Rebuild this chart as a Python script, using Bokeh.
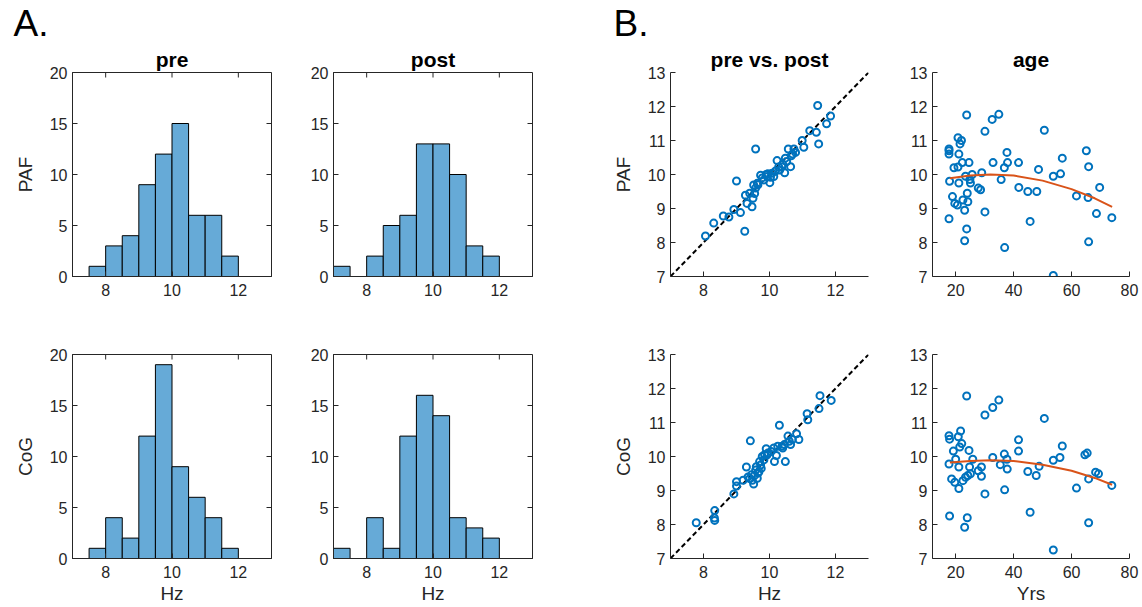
from bokeh.plotting import figure
from bokeh.layouts import row, column
from bokeh.models import FixedTicker, Range1d, Title
from bokeh.embed import file_html
from bokeh.resources import INLINE

FONT = "Liberation Sans"
TXT = "#262626"
BLUE = "#0072BD"
ORANGE = "#D95319"
BAR = "#66AAD7"

# ---------------- data ----------------
bin_edges = [7.0, 7.5, 8.0, 8.5, 9.0, 9.5, 10.0, 10.5, 11.0, 11.5, 12.0, 12.5, 13.0]
paf_pre_counts = [0, 1, 3, 4, 9, 12, 15, 6, 6, 2, 0, 0]
paf_post_counts = [1, 0, 2, 5, 6, 13, 13, 10, 3, 2, 0, 0]
cog_pre_counts = [0, 1, 4, 2, 12, 19, 9, 6, 4, 1, 0, 0]
cog_post_counts = [1, 0, 4, 1, 12, 16, 14, 4, 3, 2, 0, 0]

paf_pre = [8.06, 8.31, 8.60, 8.77, 8.92, 9.00, 9.12, 9.25, 9.27, 9.32, 9.47, 9.50, 9.52,
           9.55, 9.58, 9.63, 9.58, 9.73, 9.83, 9.78, 9.93, 9.95, 10.01, 10.03, 10.08, 10.13,
           10.18, 10.23, 10.31, 10.28, 10.38, 10.46, 10.48, 10.52, 10.57, 10.64, 10.66, 10.74,
           10.79, 10.70, 10.99, 11.04, 11.22, 11.42, 11.46, 11.49, 11.73, 11.85, 9.40, 9.65,
           9.90, 10.40]
paf_post = [8.19, 8.57, 8.78, 8.75, 8.97, 9.81, 8.88, 8.33, 9.39, 9.15, 9.05, 9.30, 9.69,
            9.44, 10.75, 9.74, 9.60, 9.98, 9.84, 9.90, 9.94, 10.02, 9.76, 9.92, 10.04, 9.94,
            10.10, 10.41, 10.13, 10.22, 10.23, 10.05, 10.48, 10.38, 10.75, 10.23, 10.55, 10.75,
            10.65, 10.60, 11.00, 10.80, 11.29, 11.24, 12.03, 10.90, 11.49, 11.72, 9.45, 9.70,
            10.00, 10.30]

cog_pre = [7.78, 8.33, 8.34, 8.34, 8.92, 9.00, 9.00, 9.30, 9.42, 9.45, 9.52, 9.58, 9.63,
           9.65, 9.73, 9.78, 9.83, 9.90, 9.93, 10.13, 10.15, 10.21, 10.30, 10.38, 10.48, 10.56,
           10.64, 10.69, 10.82, 10.89, 11.14, 11.16, 11.50, 11.53, 11.87, 9.35, 9.40, 9.48,
           9.55, 9.60, 9.68, 9.70, 9.75, 9.85, 9.95, 10.05, 10.40, 10.45, 10.60, 10.25, 9.20]
cog_post = [8.05, 8.19, 8.12, 8.41, 8.90, 9.26, 9.13, 9.69, 10.46, 9.46, 9.19, 9.60, 9.36,
            9.51, 9.75, 10.00, 9.90, 10.23, 10.05, 10.25, 9.85, 10.03, 10.92, 10.30, 9.85, 10.60,
            10.35, 10.50, 10.67, 10.50, 11.26, 11.08, 11.41, 11.79, 11.65, 9.40, 9.35, 9.30,
            9.45, 9.70, 9.55, 9.85, 9.65, 10.05, 10.10, 10.15, 10.25, 10.35, 10.45, 10.30, 9.30]

paf_age = [17.7, 17.7, 17.7, 17.9, 17.7, 18.9, 19.4, 19.7, 20.6, 20.8, 21.1, 21.1, 20.8, 21.5,
           22.0, 22.3, 22.5, 23.1, 23.1, 23.4, 23.8, 23.8, 24.0, 24.2, 24.6, 24.9, 25.1, 25.7,
           27.8, 28.6, 29.0, 30.1, 30.1, 32.6, 32.9, 34.9, 35.7, 36.8, 36.9, 37.7, 37.9, 41.7,
           41.8, 44.9, 45.7, 48.0, 48.6, 50.6, 53.7, 53.7, 56.2, 56.8, 61.7, 65.1, 65.7, 65.9,
           65.9, 68.6, 69.7, 73.9]
paf_age_val = [10.70, 10.60, 10.75, 9.80, 8.70, 9.35, 10.20, 9.15, 9.10, 11.08, 10.60, 9.75,
               10.22, 10.90, 11.00, 10.35, 9.25, 8.95, 8.05, 9.95, 11.75, 8.40, 9.45, 9.20,
               10.35, 9.85, 9.75, 10.00, 9.60, 9.55, 10.05, 11.27, 8.90, 11.62, 10.35, 11.77,
               9.85, 10.20, 7.85, 10.65, 10.35, 10.35, 9.62, 9.50, 8.62, 9.50, 10.15, 11.30,
               9.95, 7.03, 10.02, 10.48, 9.37, 10.70, 9.32, 10.23, 8.02, 8.85, 9.62, 8.73]

cog_age = [17.7, 17.9, 17.7, 17.9, 18.6, 19.2, 19.7, 20.0, 20.9, 21.1, 21.1, 21.4, 21.7, 22.1,
           22.5, 23.1, 23.4, 23.8, 24.0, 24.2, 24.6, 24.8, 25.1, 25.9, 27.8, 28.9, 28.9, 30.1,
           30.1, 32.8, 32.8, 34.9, 35.4, 36.8, 36.9, 37.7, 37.8, 41.7, 41.7, 44.9, 45.7, 47.8,
           48.8, 50.6, 53.7, 53.7, 56.0, 56.8, 61.7, 64.6, 65.4, 65.9, 65.9, 68.3, 69.3, 73.9]
cog_age_val = [10.61, 10.51, 9.78, 8.25, 9.34, 10.16, 9.24, 9.92, 10.58, 9.69, 9.06, 10.28,
               10.75, 10.38, 9.29, 7.92, 9.39, 11.78, 8.20, 9.44, 10.18, 9.69, 9.49, 9.92,
               9.58, 9.69, 9.42, 11.22, 8.90, 11.44, 9.97, 11.66, 9.76, 10.07, 9.02, 9.92,
               9.63, 10.49, 10.16, 9.56, 8.36, 9.44, 9.71, 11.12, 9.89, 7.25, 9.97, 10.31,
               9.07, 10.05, 10.10, 9.34, 8.05, 9.54, 9.49, 9.15]

fit_age = [18, 25, 32, 40, 50, 60, 68, 74]
paf_fit = [9.89, 9.97, 10.00, 9.97, 9.82, 9.57, 9.30, 9.05]
cog_fit = [9.82, 9.87, 9.89, 9.87, 9.76, 9.58, 9.37, 9.17]

identity_line = [7, 13]

hz_ticks = [8, 10, 12]
count_ticks = [0, 5, 10, 15, 20]
val_ticks = [7, 8, 9, 10, 11, 12, 13]
age_ticks = [20, 40, 60, 80]

panel_labels = ["A.", "B."]

# ---------------- layout geometry ----------------
COLW = [(302, 72, 31), (298, 31, 68), (300, 70, 32), (242, 32, 13)]
ROWH = [(316, 72, 40), (291, 38, 49)]
TICK = 5


def style_axis(ax, ticks, xaxis=True):
    ax.ticker = FixedTicker(ticks=ticks)
    ax.major_tick_in = TICK
    ax.major_tick_out = 0
    ax.minor_tick_line_color = None
    ax.axis_line_color = TXT
    ax.major_tick_line_color = TXT
    ax.axis_line_width = 1
    ax.major_tick_line_width = 1
    ax.major_label_text_font = FONT
    ax.major_label_text_color = TXT
    ax.major_label_text_font_size = "16px"
    ax.major_label_standoff = 7 if xaxis else 5
    ax.axis_label_text_font = FONT
    ax.axis_label_text_font_size = "19px"
    ax.axis_label_text_font_style = "normal"
    ax.axis_label_text_color = TXT
    ax.axis_label_standoff = 2 if xaxis else 11


def style_title(t):
    t.align = "center"
    t.text_font = FONT
    t.text_font_size = "21px"
    t.text_font_style = "bold"
    t.text_color = "#000000"
    t.standoff = 4


def make_fig(ci, ri, xr, yr, xticks, yticks, title, ylabel=None, xlabel=None, box=False,
             panel=None):
    w, bl, br = COLW[ci]
    h, bt, bb = ROWH[ri]
    p = figure(width=w, height=h, x_range=Range1d(*xr), y_range=Range1d(*yr),
               output_backend="svg", toolbar_location=None,
               min_border_left=bl, min_border_right=br,
               min_border_top=bt, min_border_bottom=bb)
    p.grid.visible = False
    p.background_fill_color = "white"
    p.border_fill_color = "white"
    if panel is None:
        p.title.text = title
        style_title(p.title)
    else:
        # outer title: panel letter; inner (added) title: subplot title
        p.title.text = panel
        p.title.align = "left"
        p.title.offset = -(bl - 13)
        p.title.standoff = 0
        p.title.text_font = FONT
        p.title.text_font_size = "37px"
        p.title.text_font_style = "normal"
        p.title.text_color = "#000000"
        sub = Title(text=title)
        style_title(sub)
        p.add_layout(sub, "above")
    style_axis(p.xaxis[0], xticks, True)
    style_axis(p.yaxis[0], yticks, False)
    if xlabel:
        p.xaxis[0].axis_label = xlabel
    if ylabel:
        p.yaxis[0].axis_label = ylabel
    if box:
        p.outline_line_color = TXT
        p.outline_line_width = 1
        p.outline_line_alpha = 1
        # inward ticks on the top and right edges of the box (length TICK px)
        fw = w - bl - br
        fh = h - bt - bb
        dy = TICK * (yr[1] - yr[0]) / fh
        dx = TICK * (xr[1] - xr[0]) / fw
        p.segment(x0=xticks, x1=xticks, y0=[yr[1]] * len(xticks), y1=[yr[1] - dy] * len(xticks),
                  line_color=TXT, line_width=1)
        p.segment(x0=[xr[1]] * len(yticks), x1=[xr[1] - dx] * len(yticks), y0=yticks, y1=yticks,
                  line_color=TXT, line_width=1)
    else:
        p.outline_line_color = None
    return p


def hist(ci, ri, counts, title, ylabel=None, xlabel=None, panel=None):
    p = make_fig(ci, ri, (7, 13), (0, 20), hz_ticks, count_ticks, title, ylabel, xlabel,
                 box=True, panel=panel)
    p.quad(left=bin_edges[:-1], right=bin_edges[1:], bottom=[0] * len(counts), top=counts,
           fill_color=BAR, line_color="black", line_width=1)
    return p


def prepost(ci, ri, x, y, title, ylabel=None, xlabel=None, panel=None):
    p = make_fig(ci, ri, (7, 13), (7, 13), hz_ticks, val_ticks, title, ylabel, xlabel,
                 panel=panel)
    p.line(identity_line, identity_line, line_color="black", line_width=2, line_dash="5 3")
    p.scatter(x, y, marker="circle", size=7, fill_color=None, line_color=BLUE, line_width=2)
    return p


def agefig(ci, ri, x, y, fx, fy, title, xlabel=None):
    p = make_fig(ci, ri, (12, 80), (7, 13), age_ticks, val_ticks, title, None, xlabel)
    p.scatter(x, y, marker="circle", size=7, fill_color=None, line_color=BLUE, line_width=2)
    p.line(fx, fy, line_color=ORANGE, line_width=2)
    return p


h1 = hist(0, 0, paf_pre_counts, "pre", ylabel="PAF", panel=panel_labels[0])
h2 = hist(1, 0, paf_post_counts, "post")
s1 = prepost(2, 0, paf_pre, paf_post, "pre vs. post", ylabel="PAF", panel=panel_labels[1])
a1 = agefig(3, 0, paf_age, paf_age_val, fit_age, paf_fit, "age")

h3 = hist(0, 1, cog_pre_counts, "", ylabel="CoG", xlabel="Hz")
h4 = hist(1, 1, cog_post_counts, "", xlabel="Hz")
s2 = prepost(2, 1, cog_pre, cog_post, "", ylabel="CoG", xlabel="Hz")
a2 = agefig(3, 1, cog_age, cog_age_val, fit_age, cog_fit, "", xlabel="Yrs")

layout = column(row(h1, h2, s1, a1), row(h3, h4, s2, a2))

open("out.html", "w").write(file_html(layout, INLINE))
